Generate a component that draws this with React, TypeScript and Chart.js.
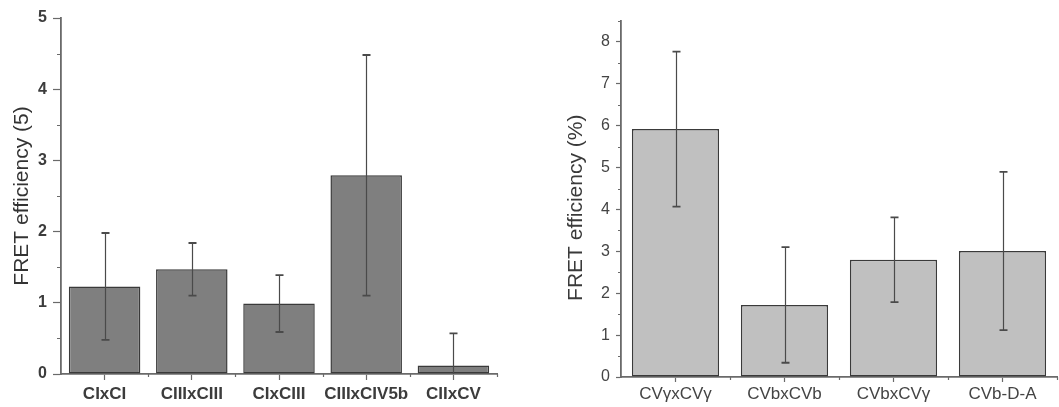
import React, { useEffect, useRef } from "react";
import { Chart, registerables } from "chart.js";

Chart.register(...registerables);

// ---- data ----
const leftCategories = ["CIxCI", "CIIIxCIII", "CIxCIII", "CIIIxCIV5b", "CIIxCV"];
const leftValues = [1.23, 1.47, 0.99, 2.79, 0.12];
const leftErrors = [0.75, 0.37, 0.4, 1.69, 0.45];
const leftYMax = 5;
const leftYTitle = "FRET efficiency (5)";

const rightCategories = ["CVγxCVγ", "CVbxCVb", "CVbxCVγ", "CVb-D-A"];
const rightValues = [5.92, 1.72, 2.8, 3.01];
const rightErrors = [1.85, 1.38, 1.01, 1.89];
const rightYMax = 8.5;
const rightYTitle = "FRET efficiency (%)   ";

const FONT = '"Liberation Sans", Arial, Helvetica, sans-serif';

const errorBarPlugin = {
  id: "errorBars",
  afterDatasetsDraw(chart: any, _args: any, opts: any) {
    const { ctx, chartArea } = chart;
    const meta = chart.getDatasetMeta(0);
    const ds = chart.data.datasets[0];
    const errs: number[] = opts.errors || [];
    const ys = chart.scales.y;
    ctx.save();
    ctx.beginPath();
    ctx.rect(chartArea.left, chartArea.top - 20, chartArea.right - chartArea.left, chartArea.bottom - chartArea.top + 20);
    ctx.clip();
    ctx.strokeStyle = opts.color;
    meta.data.forEach((bar: any, i: number) => {
      const v = ds.data[i] as number;
      const e = errs[i];
      const x = Math.round(bar.x) + 0.5;
      const yt = ys.getPixelForValue(v + e);
      const yb = ys.getPixelForValue(v - e);
      ctx.lineWidth = opts.width;
      ctx.beginPath();
      ctx.moveTo(x, yt);
      ctx.lineTo(x, yb);
      ctx.stroke();
      ctx.lineWidth = opts.capWidth;
      ctx.beginPath();
      ctx.moveTo(x - opts.cap / 2, yt);
      ctx.lineTo(x + opts.cap / 2, yt);
      ctx.moveTo(x - opts.cap / 2, yb);
      ctx.lineTo(x + opts.cap / 2, yb);
      ctx.stroke();
    });
    ctx.restore();
  },
};

const minorTickPlugin = {
  id: "minorTicks",
  afterDraw(chart: any, _args: any, opts: any) {
    const { ctx, chartArea } = chart;
    const ys = chart.scales.y;
    const xs = chart.scales.x;
    ctx.save();
    ctx.strokeStyle = opts.color;
    ctx.lineWidth = opts.width;
    ctx.beginPath();
    for (let k = 1; k * 0.5 <= ys.max + 1e-9; k += 2) {
      const py = Math.round(ys.getPixelForValue(k * 0.5)) + 0.5;
      ctx.moveTo(chartArea.left, py);
      ctx.lineTo(chartArea.left - opts.yLen, py);
    }
    const n = chart.data.labels.length;
    for (let i = 1; i <= n; i++) {
      const px = Math.round(xs.getPixelForValue(i - 0.5)) + 0.5;
      ctx.moveTo(px, chartArea.bottom);
      ctx.lineTo(px, chartArea.bottom + opts.xLen);
    }
    ctx.stroke();
    ctx.restore();
  },
};

type Panel = {
  categories: string[];
  values: number[];
  errors: number[];
  yMax: number;
  yTitle: string;
  fill: string;
  yAxisWidth: number;
  xAxisHeight: number;
  padTop: number;
  padRight: number;
  titlePad: number;
  yTickLen: number;
  yTickPad: number;
  yMinorLen: number;
  xTickLen: number;
  xTickPad: number;
  tickWeight: string;
  tickColor: string;
  titleColor: string;
  barPct: number;
  width: number;
};

function makeChart(canvas: HTMLCanvasElement, p: Panel) {
  const axisColor = "#6a6a6a";
  return new Chart(canvas, {
    type: "bar",
    data: {
      labels: p.categories,
      datasets: [
        {
          data: p.values,
          backgroundColor: p.fill,
          borderColor: "#3a3a3a",
          borderWidth: 1.5,
          borderSkipped: false,
          barPercentage: p.barPct,
          categoryPercentage: 1,
        },
      ],
    },
    options: {
      animation: false,
      responsive: false,
      maintainAspectRatio: false,
      devicePixelRatio: 1,
      layout: { padding: { top: p.padTop, right: p.padRight, left: 0, bottom: 0 } },
      plugins: {
        legend: { display: false },
        tooltip: { enabled: false },
        errorBars: { errors: p.errors, color: "#4a4a4a", width: 1.2, capWidth: 1.8, cap: 8 },
        minorTicks: { color: axisColor, width: 1.2, yLen: p.yMinorLen, xLen: 3 },
      } as any,
      scales: {
        x: {
          type: "category",
          offset: true,
          grid: {
            display: true,
            drawOnChartArea: false,
            offset: false,
            tickLength: p.xTickLen,
            tickColor: axisColor,
            tickWidth: 1.2,
          },
          border: { display: true, color: axisColor, width: 1.8 },
          ticks: {
            padding: p.xTickPad,
            color: p.tickColor,
            font: { family: FONT, size: 17, weight: p.tickWeight as any },
            maxRotation: 0,
            autoSkip: false,
          },
          afterFit: (s: any) => {
            s.height = p.xAxisHeight;
          },
        },
        y: {
          type: "linear",
          min: 0,
          max: p.yMax,
          ticks: {
            stepSize: 1,
            padding: p.yTickPad,
            color: p.tickColor,
            font: { family: FONT, size: 16, weight: p.tickWeight as any },
          },
          afterBuildTicks: (s: any) => {
            s.ticks = s.ticks.filter((t: any) => Number.isInteger(t.value));
          },
          grid: {
            display: true,
            drawOnChartArea: false,
            tickLength: p.yTickLen,
            tickColor: axisColor,
            tickWidth: 1.2,
          },
          border: { display: true, color: axisColor, width: 1.8 },
          title: {
            display: true,
            text: p.yTitle,
            color: p.titleColor,
            font: { family: FONT, size: 21, weight: "normal" },
            padding: { top: p.titlePad, bottom: 0 },
          },
          afterFit: (s: any) => {
            s.width = p.yAxisWidth;
          },
        },
      },
    },
    plugins: [errorBarPlugin, minorTickPlugin],
  } as any);
}

function BarPanel({ p, left }: { p: Panel; left: number }) {
  const ref = useRef<HTMLCanvasElement | null>(null);
  useEffect(() => {
    if (!ref.current) return;
    const c = makeChart(ref.current, p);
    return () => c.destroy();
  }, []);
  return (
    <canvas
      ref={ref}
      width={p.width}
      height={407}
      style={{ position: "absolute", left, top: 0, width: p.width, height: 407 }}
    />
  );
}

const leftPanel: Panel = {
  categories: leftCategories,
  values: leftValues,
  errors: leftErrors,
  yMax: leftYMax,
  yTitle: leftYTitle,
  fill: "#7f7f7f",
  yAxisWidth: 61,
  xAxisHeight: 33,
  padTop: 18,
  padRight: 33,
  titlePad: 10,
  yTickLen: 8,
  yTickPad: 6,
  yMinorLen: 4,
  xTickLen: 6,
  xTickPad: 4,
  tickWeight: "bold",
  tickColor: "#3c3c3c",
  titleColor: "#333333",
  barPct: 0.82,
  width: 530,
};

const rightPanel: Panel = {
  categories: rightCategories,
  values: rightValues,
  errors: rightErrors,
  yMax: rightYMax,
  yTitle: rightYTitle,
  fill: "#c0c0c0",
  yAxisWidth: 91,
  xAxisHeight: 30,
  padTop: 21,
  padRight: 2,
  titlePad: 34,
  yTickLen: 5,
  yTickPad: 6,
  yMinorLen: 3,
  xTickLen: 5,
  xTickPad: 2,
  tickWeight: "normal",
  tickColor: "#444444",
  titleColor: "#3a3a3a",
  barPct: 0.8,
  width: 529,
};

export default function App() {
  return (
    <div style={{ position: "fixed", left: 0, top: 0, width: 1059, height: 407, background: "#fff" }}>
      <BarPanel p={leftPanel} left={0} />
      <BarPanel p={rightPanel} left={530} />
    </div>
  );
}
